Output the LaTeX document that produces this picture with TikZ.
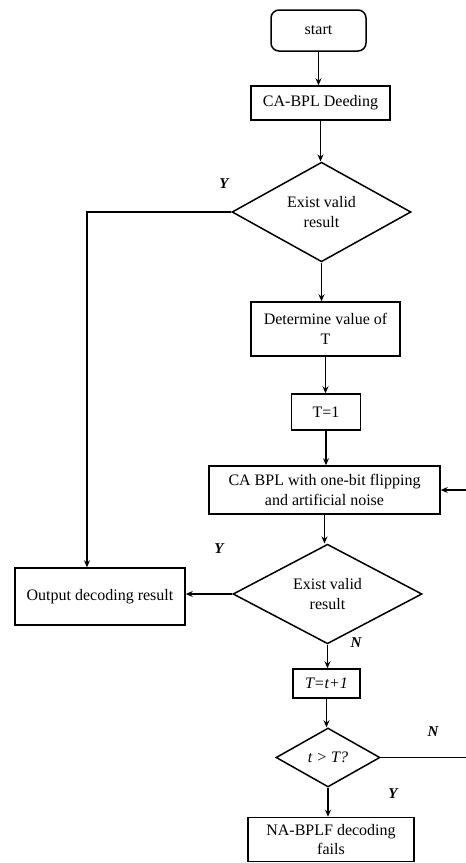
\documentclass[tikz,border=0pt]{standalone}
\usepackage{fontspec}
\setmainfont{Liberation Serif}
\usetikzlibrary{shapes.geometric,arrows.meta}
\begin{document}
\begin{tikzpicture}[x=1pt,y=-1pt,
 every node/.style={font=\fontsize{16}{19.5}\selectfont},
 box/.style={draw,line width=1.5pt,inner sep=0pt,align=center},
 dec/.style={draw,diamond,line width=1.5pt,inner sep=0pt,align=center},
 arr/.style={line width=1.5pt,-{Stealth[length=7pt,width=6pt]}},
 ln/.style={line width=1.5pt},
 lab/.style={font=\fontsize{15}{18}\selectfont\bfseries\itshape}]
\useasboundingbox (0,0) rectangle (466,863);

\node[box,rounded corners=8pt,minimum width=95,minimum height=41] (start) at (318.5,30.5) {start};
\node[box,minimum width=139,minimum height=34] (decode) at (320.5,103) {CA-BPL Deeding};
\node[dec,minimum width=179,minimum height=95] (d1) at (321.5,212) {Exist valid\\result};
\node[box,minimum width=149,minimum height=54] (det) at (325.5,329) {Determine value of\\T};
\node[box,minimum width=69,minimum height=36] (t1) at (326,412) {T=1};
\node[box,minimum width=231,minimum height=48] (ca) at (324.5,490) {CA BPL with one-bit flipping\\and artificial noise};
\node[dec,minimum width=189,minimum height=92] (d2) at (327.5,594) {Exist valid\\result};
\node[box,minimum width=170,minimum height=57] (out) at (100,596.5) {Output decoding result};
\node[box,minimum width=67,minimum height=29] (tt) at (326.5,683.5) {\textit{T=t+1}};
\node[dec,minimum width=104,minimum height=59] (d3) at (328,757.5) {\textit{t > T?}};
\node[box,minimum width=166,minimum height=44] (fail) at (331,839.5) {NA-BPLF decoding\\fails};

\coordinate (edgeT) at (466,490);
\coordinate (edgeB) at (466,757.5);

\draw[arr] (start.south) -- (start.south |- decode.north);
\draw[arr] (decode.south) -- (decode.south |- d1.north);
\draw[arr] (d1.south) -- (d1.south |- det.north);
\draw[arr] (det.south) -- (det.south |- t1.north);
\draw[arr] (t1.south) -- (t1.south |- ca.north);
\draw[arr] (ca.south) -- (ca.south |- d2.north);
\draw[arr] (d2.west) -- (out.east |- d2.west);
\draw[arr] (d1.west) -| ([xshift=-13pt]out.north);
\draw[arr] (d2.south) -- (d2.south |- tt.north);
\draw[arr] (tt.south) -- (tt.south |- d3.north);
\draw[arr] (d3.south) -- (d3.south |- fail.north);
\draw[ln] (d3.east) -- (edgeB);
\draw[arr] (edgeT) -- (ca.east);

\node[lab] (y1) at (224,184) {Y};
\node[lab] (y2) at (219,549) {Y};
\node[lab] (n1) at (356,643) {N};
\node[lab] (n2) at (433,732) {N};
\node[lab] (y3) at (393,794) {Y};
\end{tikzpicture}
\end{document}
